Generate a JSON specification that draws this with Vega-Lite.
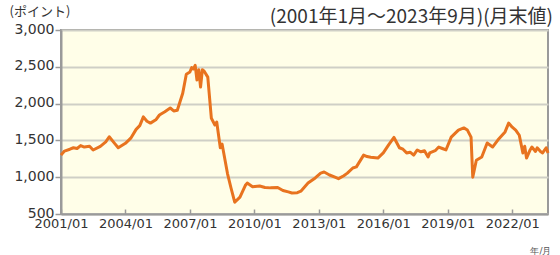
{
  "$schema": "https://vega.github.io/schema/vega-lite/v6.json",
  "width": 487,
  "height": 184,
  "autosize": "none",
  "padding": {"left": 61, "top": 30, "right": 12, "bottom": 41},
  "background": "white",
  "config": {
    "view": {"fill": "#FFFEE8", "stroke": "#9a9a9a", "strokeWidth": 2},
    "font": "DejaVu Sans"
  },
  "title": {
    "text": "(2001年1月～2023年9月)(月末値)",
    "anchor": "end",
    "frame": "group",
    "baseline": "bottom",
    "offset": 6,
    "dx": 5,
    "dy": 47,
    "font": "Noto Sans CJK JP",
    "fontSize": 19,
    "fontWeight": "normal",
    "color": "#333333"
  },
  "data": {
    "values": [
      {"date": "2001-01", "value": 1300},
      {"date": "2001-03", "value": 1355},
      {"date": "2001-06", "value": 1380},
      {"date": "2001-08", "value": 1400},
      {"date": "2001-10", "value": 1390},
      {"date": "2001-12", "value": 1430},
      {"date": "2002-02", "value": 1410},
      {"date": "2002-05", "value": 1420},
      {"date": "2002-07", "value": 1370},
      {"date": "2002-11", "value": 1420},
      {"date": "2003-02", "value": 1480},
      {"date": "2003-04", "value": 1550},
      {"date": "2003-07", "value": 1460},
      {"date": "2003-09", "value": 1400},
      {"date": "2004-01", "value": 1460},
      {"date": "2004-04", "value": 1530},
      {"date": "2004-07", "value": 1650},
      {"date": "2004-09", "value": 1700},
      {"date": "2004-11", "value": 1820},
      {"date": "2005-01", "value": 1760},
      {"date": "2005-03", "value": 1735},
      {"date": "2005-06", "value": 1780},
      {"date": "2005-08", "value": 1845},
      {"date": "2005-11", "value": 1890},
      {"date": "2006-02", "value": 1940},
      {"date": "2006-04", "value": 1900},
      {"date": "2006-06", "value": 1910},
      {"date": "2006-09", "value": 2140},
      {"date": "2006-11", "value": 2400},
      {"date": "2007-01", "value": 2430},
      {"date": "2007-02", "value": 2490},
      {"date": "2007-03", "value": 2470},
      {"date": "2007-04", "value": 2520},
      {"date": "2007-05", "value": 2320},
      {"date": "2007-06", "value": 2460},
      {"date": "2007-07", "value": 2225},
      {"date": "2007-08", "value": 2460},
      {"date": "2007-09", "value": 2440},
      {"date": "2007-11", "value": 2360},
      {"date": "2008-01", "value": 1800},
      {"date": "2008-03", "value": 1710},
      {"date": "2008-04", "value": 1750},
      {"date": "2008-06", "value": 1400},
      {"date": "2008-07", "value": 1450},
      {"date": "2008-10", "value": 1050},
      {"date": "2008-12", "value": 850},
      {"date": "2009-02", "value": 660},
      {"date": "2009-05", "value": 730},
      {"date": "2009-08", "value": 890},
      {"date": "2009-09", "value": 920},
      {"date": "2009-12", "value": 870},
      {"date": "2010-04", "value": 880},
      {"date": "2010-07", "value": 860},
      {"date": "2010-10", "value": 855},
      {"date": "2011-02", "value": 860},
      {"date": "2011-05", "value": 820},
      {"date": "2011-08", "value": 800},
      {"date": "2011-10", "value": 785},
      {"date": "2012-01", "value": 790},
      {"date": "2012-03", "value": 810},
      {"date": "2012-07", "value": 920},
      {"date": "2012-11", "value": 990},
      {"date": "2013-02", "value": 1055},
      {"date": "2013-04", "value": 1070},
      {"date": "2013-07", "value": 1030},
      {"date": "2013-10", "value": 1000},
      {"date": "2013-12", "value": 980},
      {"date": "2014-03", "value": 1020},
      {"date": "2014-05", "value": 1055},
      {"date": "2014-08", "value": 1125},
      {"date": "2014-10", "value": 1140},
      {"date": "2015-02", "value": 1300},
      {"date": "2015-04", "value": 1280},
      {"date": "2015-06", "value": 1270},
      {"date": "2015-10", "value": 1260},
      {"date": "2016-01", "value": 1330},
      {"date": "2016-04", "value": 1440},
      {"date": "2016-07", "value": 1540},
      {"date": "2016-10", "value": 1400},
      {"date": "2016-12", "value": 1380},
      {"date": "2017-02", "value": 1330},
      {"date": "2017-04", "value": 1340},
      {"date": "2017-06", "value": 1300},
      {"date": "2017-08", "value": 1370},
      {"date": "2017-10", "value": 1345},
      {"date": "2017-12", "value": 1360},
      {"date": "2018-02", "value": 1275},
      {"date": "2018-03", "value": 1330},
      {"date": "2018-06", "value": 1360},
      {"date": "2018-08", "value": 1410},
      {"date": "2018-10", "value": 1390},
      {"date": "2018-12", "value": 1370},
      {"date": "2019-03", "value": 1545},
      {"date": "2019-07", "value": 1640},
      {"date": "2019-10", "value": 1670},
      {"date": "2019-12", "value": 1640},
      {"date": "2020-02", "value": 1545},
      {"date": "2020-03", "value": 1000},
      {"date": "2020-05", "value": 1230},
      {"date": "2020-08", "value": 1275},
      {"date": "2020-11", "value": 1465},
      {"date": "2021-02", "value": 1410},
      {"date": "2021-05", "value": 1505},
      {"date": "2021-09", "value": 1615},
      {"date": "2021-11", "value": 1735},
      {"date": "2022-01", "value": 1680},
      {"date": "2022-03", "value": 1640},
      {"date": "2022-05", "value": 1570},
      {"date": "2022-07", "value": 1330},
      {"date": "2022-08", "value": 1420},
      {"date": "2022-09", "value": 1260},
      {"date": "2022-11", "value": 1370},
      {"date": "2022-12", "value": 1410},
      {"date": "2023-02", "value": 1350},
      {"date": "2023-03", "value": 1400},
      {"date": "2023-05", "value": 1345},
      {"date": "2023-06", "value": 1330},
      {"date": "2023-08", "value": 1400},
      {"date": "2023-09", "value": 1330}
    ],
    "format": {"parse": {"date": "date:'%Y-%m'"}}
  },
  "mark": {"type": "line", "color": "#E8731F", "strokeWidth": 3, "strokeJoin": "round"},
  "encoding": {
    "x": {
      "field": "date",
      "type": "temporal",
      "scale": {"domain": [{"year": 2001, "month": 1, "date": 1}, {"year": 2023, "month": 9, "date": 1}]},
      "axis": {
        "values": [
          {"year": 2001, "month": 1, "date": 1},
          {"year": 2004, "month": 1, "date": 1},
          {"year": 2007, "month": 1, "date": 1},
          {"year": 2010, "month": 1, "date": 1},
          {"year": 2013, "month": 1, "date": 1},
          {"year": 2016, "month": 1, "date": 1},
          {"year": 2019, "month": 1, "date": 1},
          {"year": 2022, "month": 1, "date": 1}
        ],
        "format": "%Y/%m",
        "grid": false,
        "domainColor": "#9a9a9a",
        "domainWidth": 2,
        "tickColor": "#9a9a9a",
        "tickWidth": 1.5,
        "tickSize": -5,
        "labelPadding": 8,
        "labelFontSize": 13,
        "labelColor": "#333333",
        "labelFlush": false,
        "labelDx": -3,
        "title": "年/月",
        "titleFontSize": 9,
        "titleFontWeight": "normal",
        "titleColor": "#555555",
        "titleAnchor": "end",
        "titleAlign": "right",
        "titleX": 490,
        "titleY": 36,
        "titleBaseline": "middle"
      }
    },
    "y": {
      "field": "value",
      "type": "quantitative",
      "scale": {"domain": [500, 3000], "nice": false, "zero": false},
      "axis": {
        "values": [500, 1000, 1500, 2000, 2500, 3000],
        "format": ",d",
        "grid": true,
        "gridColor": "#cfcfc6",
        "gridWidth": 2,
        "domainColor": "#9a9a9a",
        "domainWidth": 2,
        "tickColor": "#9a9a9a",
        "tickWidth": 1.5,
        "tickSize": 6,
        "labelPadding": 1,
        "labelFontSize": 14,
        "labelColor": "#333333",
        "labelFlush": false,
        "labelOffset": -1,
        "title": "(ポイント)",
        "titleFont": "Noto Sans CJK JP",
        "titleFontSize": 13,
        "titleFontWeight": "normal",
        "titleColor": "#333333",
        "titleAngle": 0,
        "titleAlign": "left",
        "titleBaseline": "middle",
        "titleX": -52,
        "titleY": -19
      }
    }
  }
}
